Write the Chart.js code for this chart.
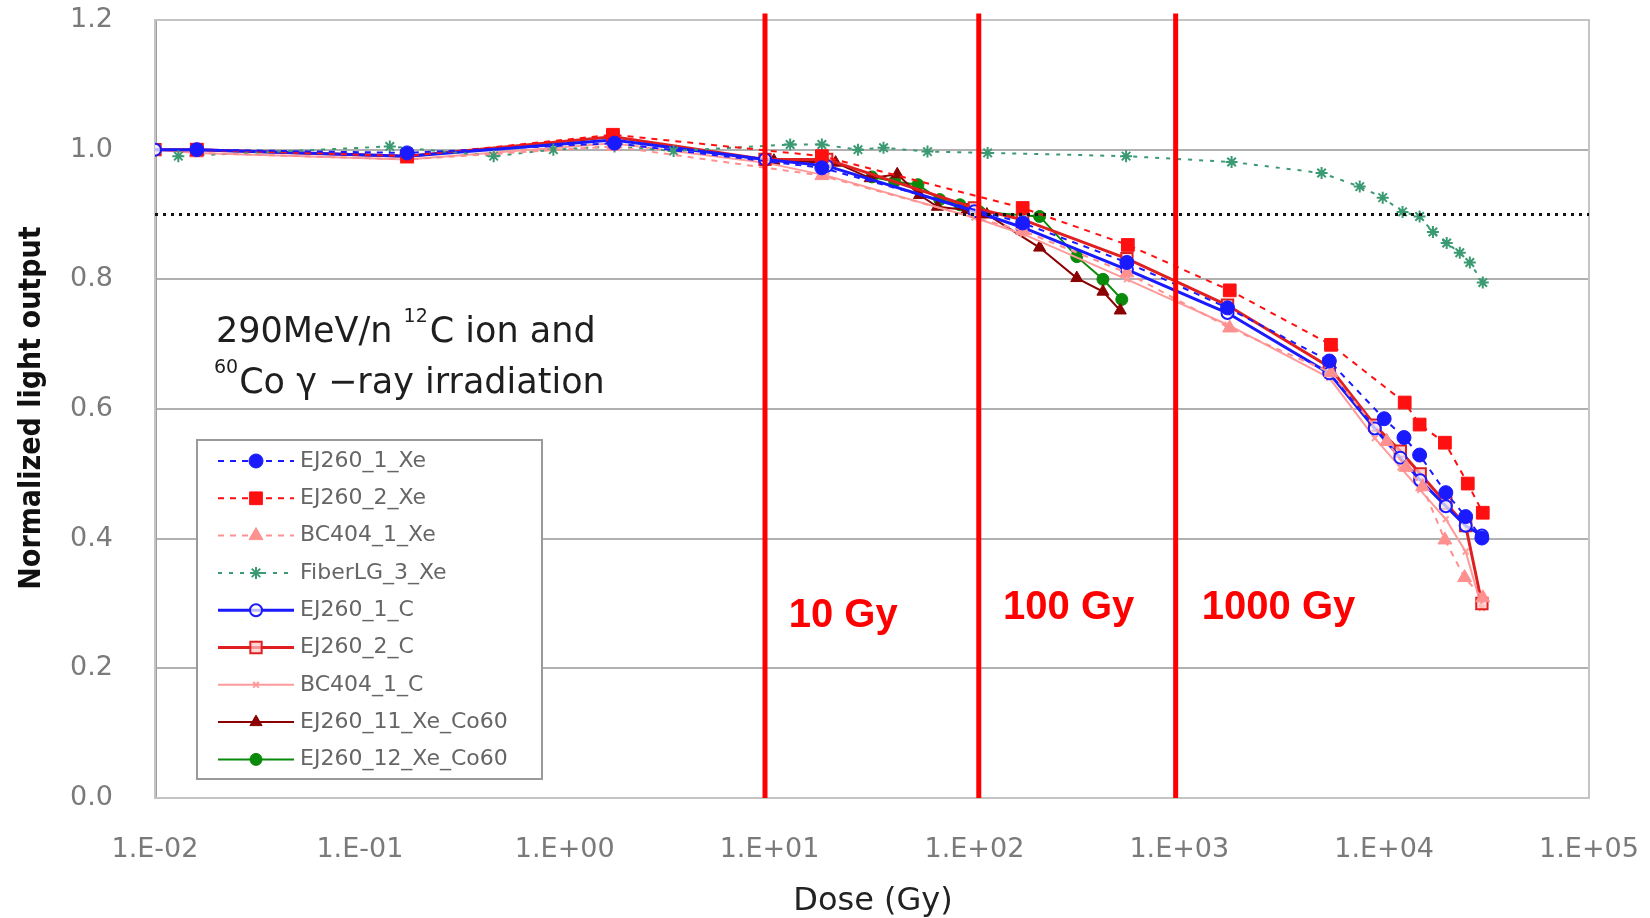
<!DOCTYPE html>
<html>
<head>
<meta charset="utf-8">
<script src="https://cdn.jsdelivr.net/npm/chart.js@4.4.1/dist/chart.umd.min.js"></script>
<style>
    html, body { margin: 0; padding: 0; background: #fff; }
    canvas { display: block; }
</style>
</head>
<body>
<canvas id="chart" width="1650" height="918"></canvas>
<script>
// axes
const xTicks = [0.01, 0.1, 1, 10, 100, 1000, 10000, 100000];
const xTickLabels = ['1.E-02', '1.E-01', '1.E+00', '1.E+01', '1.E+02', '1.E+03', '1.E+04', '1.E+05'];
const yTicks = [0, 0.2, 0.4, 0.6, 0.8, 1.0, 1.2];
const yTickLabels = ['0.0', '0.2', '0.4', '0.6', '0.8', '1.0', '1.2'];

// Xe ion irradiation
const ej260_1_xe_dose = [0.016, 0.17, 1.75, 18, 172, 555, 1720, 5400, 10000, 12500, 14900, 20000, 25000, 30000];
const ej260_1_xe_val = [1.0, 0.995, 1.01, 0.972, 0.887, 0.826, 0.756, 0.674, 0.585, 0.556, 0.529, 0.471, 0.434, 0.401];
const ej260_2_xe_dose = [0.016, 0.17, 1.72, 18, 172, 561, 1763, 5500, 12600, 14900, 19800, 25600, 30300];
const ej260_2_xe_val = [1.0, 0.99, 1.023, 0.99, 0.91, 0.853, 0.783, 0.699, 0.61, 0.576, 0.548, 0.485, 0.44];
const bc404_1_xe_dose = [0.016, 0.17, 1.72, 18, 172, 555, 1760, 5500, 10300, 12800, 15400, 19800, 24700, 30300];
const bc404_1_xe_val = [0.995, 0.985, 1.005, 0.96, 0.875, 0.81, 0.725, 0.656, 0.55, 0.51, 0.48, 0.398, 0.34, 0.309];
const fiber_3_xe_dose = [0.013, 0.14, 0.45, 0.88, 1.75, 3.4, 12.6, 18, 27, 36, 59, 116, 550, 1800, 4950, 7600, 9840, 12300, 14900, 17300, 20200, 23400, 26200, 30300];
const fiber_3_xe_val = [0.99, 1.005, 0.99, 1.0, 1.005, 0.998, 1.008, 1.008, 1.0, 1.003, 0.997, 0.995, 0.99, 0.981, 0.964, 0.943, 0.926, 0.904, 0.897, 0.873, 0.856, 0.841, 0.826, 0.795];

// C ion irradiation
const c_dose = [0.01, 0.016, 0.17, 1.72, 9.5, 19, 100, 172, 555, 1720, 5400, 9000, 12000, 15000, 20000, 25000, 30000];
const ej260_1_c_val = [1.0, 1.0, 0.99, 1.015, 0.985, 0.975, 0.905, 0.88, 0.815, 0.748, 0.655, 0.57, 0.525, 0.49, 0.45, 0.42, 0.405];
const ej260_2_c_val = [1.0, 1.0, 0.99, 1.02, 0.985, 0.985, 0.91, 0.892, 0.832, 0.76, 0.665, 0.575, 0.535, 0.5, 0.455, 0.42, 0.30];
const bc404_1_c_val = [1.0, 0.995, 0.985, 1.01, 0.98, 0.96, 0.895, 0.87, 0.8, 0.73, 0.648, 0.555, 0.51, 0.475, 0.43, 0.38, 0.293];

// Xe + Co60
const ej260_11_co_dose = [10.5, 21, 31, 42, 54, 66, 92, 115, 208, 316, 424, 515];
const ej260_11_co_val = [0.983, 0.98, 0.956, 0.962, 0.93, 0.912, 0.907, 0.9, 0.849, 0.802, 0.781, 0.752];
const ej260_12_co_dose = [31.6, 40.8, 53, 67.7, 85, 106, 208, 316, 424, 524];
const ej260_12_co_val = [0.958, 0.951, 0.946, 0.923, 0.915, 0.904, 0.897, 0.835, 0.8, 0.769];

// reference marks
const doseLines = [9.5, 105, 960];
const doseLabels = ['10 Gy', '100 Gy', '1000 Gy'];
const doseLabelX = [12.4, 138, 1288];
const doseLabelY = [0.264, 0.276, 0.276];
const thresholdLevel = 0.9;

const pts = (xs, ys) => xs.map((x, i) => ({ x: x, y: ys[i] }));

function series(label, xs, ys, color, style) {
    return Object.assign({
        label: label,
        data: pts(xs, ys),
        borderColor: color,
        backgroundColor: color,
        pointBackgroundColor: color,
        pointBorderColor: color,
        borderWidth: 2,
        pointBorderWidth: 1,
        tension: 0,
        order: 1,
        legend: true
    }, style);
}

const datasets = [
    series('EJ260_1_Xe', ej260_1_xe_dose, ej260_1_xe_val, '#1a1aff', { borderDash: [6, 6], pointStyle: 'circle', pointRadius: 7 }),
    series('EJ260_2_Xe', ej260_2_xe_dose, ej260_2_xe_val, '#ff1010', { borderDash: [6, 6], pointStyle: 'rect', pointRadius: 9 }),
    series('BC404_1_Xe', bc404_1_xe_dose, bc404_1_xe_val, '#ff9090', { borderDash: [6, 6], pointStyle: 'triangle', pointRadius: 8 }),
    series('FiberLG_3_Xe', fiber_3_xe_dose, fiber_3_xe_val, '#3a9a72', { borderDash: [4, 7], pointStyle: 'star', pointRadius: 6, pointBorderWidth: 2 }),
    series('EJ260_1_C', c_dose, ej260_1_c_val, '#1a1aff', { borderWidth: 3, pointStyle: 'circle', pointRadius: 6, pointBackgroundColor: 'rgba(255,255,255,0.7)', pointBorderWidth: 2 }),
    series('EJ260_2_C', c_dose, ej260_2_c_val, '#e02020', { borderWidth: 3, pointStyle: 'rect', pointRadius: 8, pointBackgroundColor: 'rgba(255,200,200,0.7)', pointBorderWidth: 2 }),
    series('BC404_1_C', c_dose, bc404_1_c_val, '#ff9a9a', { borderWidth: 2, pointStyle: 'crossRot', pointRadius: 4, pointBorderWidth: 2 }),
    series('EJ260_11_Xe_Co60', ej260_11_co_dose, ej260_11_co_val, '#8b0000', { pointStyle: 'triangle', pointRadius: 7 }),
    series('EJ260_12_Xe_Co60', ej260_12_co_dose, ej260_12_co_val, '#0a8a0a', { pointStyle: 'circle', pointRadius: 6 })
];

// red dose lines and the dotted 90% level, drawn over the data
doseLines.forEach(d => {
    datasets.push({
        data: [{ x: d, y: 0 }, { x: d, y: 1.21 }],
        borderColor: '#ff0000',
        borderWidth: 5,
        pointRadius: 0,
        clip: false,
        order: 0
    });
});
datasets.push({
    data: [{ x: xTicks[0], y: thresholdLevel }, { x: xTicks[xTicks.length - 1], y: thresholdLevel }],
    borderColor: '#111',
    borderWidth: 3,
    borderDash: [3, 5],
    pointRadius: 0,
    order: 0
});

const SANS = "'DejaVu Sans', sans-serif";
const tickFont = { family: SANS, size: 27 };

function drawMarker(ctx, ds, x, y) {
    ctx.fillStyle = ds.pointBackgroundColor;
    ctx.strokeStyle = ds.pointBorderColor;
    ctx.lineWidth = ds.pointBorderWidth;
    Chart.helpers.drawPoint(ctx, {
        pointStyle: ds.pointStyle,
        radius: ds.pointRadius,
        rotation: 0,
        borderWidth: ds.pointBorderWidth
    }, x, y);
}

const decorations = {
    id: 'decorations',
    beforeDatasetsDraw(chart) {
        const { ctx, chartArea: a } = chart;
        ctx.save();
        ctx.strokeStyle = '#c4c4c4';
        ctx.lineWidth = 2;
        ctx.strokeRect(a.left, a.top, a.right - a.left, a.bottom - a.top);
        ctx.restore();
    },
    afterDraw(chart) {
        const { ctx } = chart;
        const xs = chart.scales.x, ys = chart.scales.y;
        ctx.save();

        // axis titles
        ctx.fillStyle = '#111';
        ctx.textAlign = 'center';
        ctx.textBaseline = 'middle';
        ctx.save();
        ctx.translate(32, 408);
        ctx.rotate(-Math.PI / 2);
        ctx.font = "bold 30px 'Liberation Sans Narrow', 'DejaVu Sans Condensed', sans-serif";
        ctx.fillText('Normalized light output', 0, 0);
        ctx.restore();
        ctx.fillStyle = '#222';
        ctx.font = "32px " + SANS;
        ctx.fillText('Dose (Gy)', 873, 902);

        // dose labels
        ctx.fillStyle = '#ff0000';
        ctx.textAlign = 'left';
        ctx.textBaseline = 'alphabetic';
        ctx.font = "bold 40px 'Liberation Sans', Arial, sans-serif";
        doseLabels.forEach((t, i) => {
            ctx.fillText(t, xs.getPixelForValue(doseLabelX[i]), ys.getPixelForValue(doseLabelY[i]));
        });

        // irradiation note
        ctx.fillStyle = '#1e1e1e';
        const big = "35px " + SANS;
        const small = "19px " + SANS;
        let x = 216;
        ctx.font = big;
        ctx.fillText('290MeV/n ', x, 342);
        x += ctx.measureText('290MeV/n ').width;
        ctx.font = small;
        ctx.fillText('12', x, 322);
        x += ctx.measureText('12').width + 2;
        ctx.font = big;
        ctx.fillText('C ion and', x, 342);
        x = 214;
        ctx.font = small;
        ctx.fillText('60', x, 373);
        x += ctx.measureText('60').width + 1;
        ctx.font = big;
        ctx.fillText('Co \u03b3 \u2212ray irradiation', x, 393);

        // legend
        const bx = 197, by = 440, bw = 345, bh = 339;
        ctx.fillStyle = '#fff';
        ctx.fillRect(bx, by, bw, bh);
        ctx.strokeStyle = '#9a9a9a';
        ctx.lineWidth = 2;
        ctx.strokeRect(bx, by, bw, bh);
        ctx.font = "22px " + SANS;
        ctx.textBaseline = 'middle';
        chart.data.datasets.filter(ds => ds.legend).forEach((ds, i) => {
            const ry = 461 + i * 37.3;
            ctx.save();
            ctx.strokeStyle = ds.borderColor;
            ctx.lineWidth = ds.borderWidth;
            ctx.setLineDash(ds.borderDash || []);
            ctx.beginPath();
            ctx.moveTo(218, ry);
            ctx.lineTo(294, ry);
            ctx.stroke();
            ctx.setLineDash([]);
            drawMarker(ctx, ds, 256, ry);
            ctx.restore();
            ctx.fillStyle = '#666';
            ctx.fillText(ds.label, 300, ry);
        });
        ctx.restore();
    }
};

new Chart(document.getElementById('chart'), {
    type: 'line',
    data: { datasets: datasets },
    plugins: [decorations],
    options: {
        responsive: false,
        animation: false,
        devicePixelRatio: 1,
        layout: { padding: { left: 0, top: 20, right: 61, bottom: 0 } },
        plugins: { legend: { display: false }, tooltip: { enabled: false } },
        scales: {
            x: {
                type: 'logarithmic',
                min: xTicks[0],
                max: xTicks[xTicks.length - 1],
                afterBuildTicks: s => { s.ticks = xTicks.map(v => ({ value: v })); },
                afterFit: s => { s.height = 120; },
                grid: { display: true, drawOnChartArea: false, drawTicks: true, tickLength: 36, tickColor: 'rgba(0,0,0,0)' },
                border: { display: true, color: '#9a9a9a', width: 2 },
                ticks: {
                    autoSkip: false, maxRotation: 0, padding: 0, color: '#7a7a7a', font: tickFont,
                    callback: (v, i) => xTickLabels[i]
                }
            },
            y: {
                min: yTicks[0],
                max: yTicks[yTicks.length - 1],
                afterBuildTicks: s => { s.ticks = yTicks.map(v => ({ value: v })); },
                afterFit: s => { s.width = 155; },
                grid: { color: '#b0b0b0', lineWidth: 2, drawTicks: true, tickLength: 42, tickColor: 'rgba(0,0,0,0)' },
                border: { color: '#a0a0a0', width: 3 },
                ticks: {
                    padding: 0, color: '#7a7a7a', font: tickFont,
                    callback: (v, i) => yTickLabels[i]
                }
            }
        }
    }
});
</script>
</body>
</html>
